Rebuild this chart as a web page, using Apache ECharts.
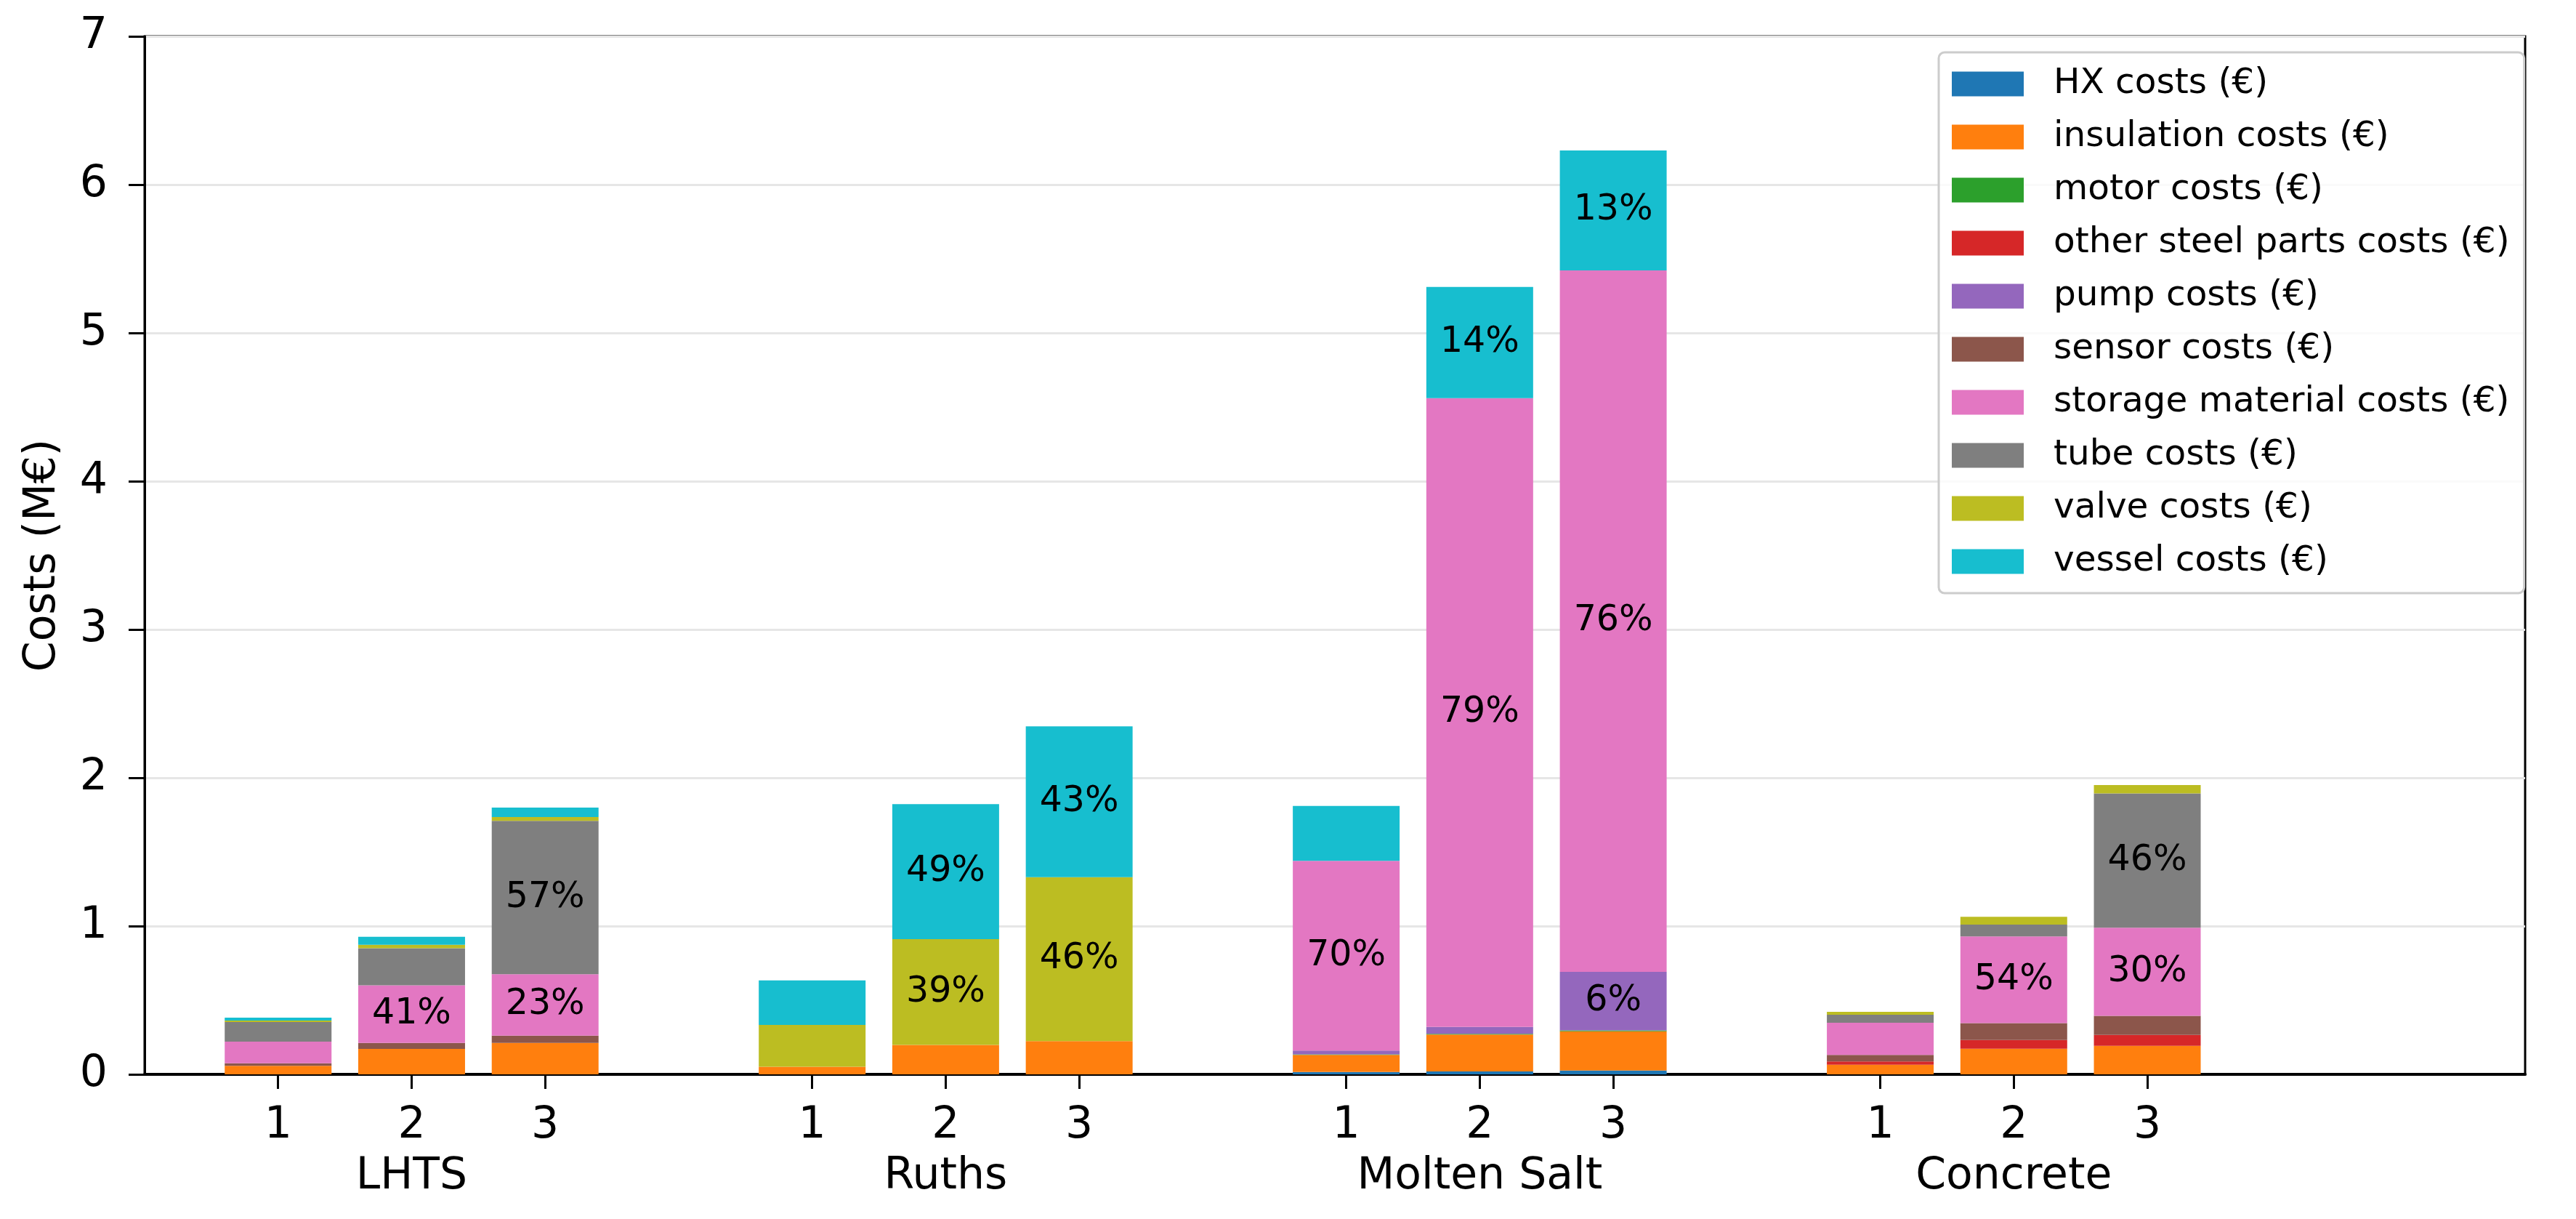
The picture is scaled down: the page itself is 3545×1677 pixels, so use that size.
<!DOCTYPE html>
<html>
<head>
<meta charset="utf-8">
<script src="https://cdn.jsdelivr.net/npm/echarts@6/dist/echarts.min.js"></script>
<style>
html,body{margin:0;padding:0;background:#fff;}
#chart{width:3545px;height:1677px;}
</style>
</head>
<body>
<div id="chart"></div>
<script>
// ---------- data ----------
const groups = ['LHTS', 'Ruths', 'Molten Salt', 'Concrete'];
const configs = ['1', '2', '3'];
const yTicks = [0, 1, 2, 3, 4, 5, 6, 7];
// values in M€, order: LHTS 1-3, Ruths 1-3, Molten Salt 1-3, Concrete 1-3
const hxCosts         = [0, 0, 0,   0, 0, 0,   0.016, 0.020, 0.026,   0, 0, 0];
const insulationCosts = [0.057, 0.172, 0.212,   0.051, 0.198, 0.224,   0.115, 0.248, 0.265,   0.065, 0.173, 0.193];
const motorCosts      = [0, 0, 0,   0, 0, 0,   0.004, 0.005, 0.006,   0, 0, 0];
const otherSteelCosts = [0, 0, 0,   0, 0, 0,   0, 0, 0,   0.022, 0.059, 0.073];
const pumpCosts       = [0, 0, 0,   0, 0, 0,   0.025, 0.047, 0.394,   0, 0, 0];
const sensorCosts     = [0.018, 0.040, 0.049,   0, 0, 0,   0, 0, 0,   0.044, 0.114, 0.129];
const storageCosts    = [0.145, 0.388, 0.414,   0, 0, 0,   1.28, 4.24, 4.73,   0.217, 0.584, 0.594];
const tubeCosts       = [0.133, 0.251, 1.034,   0, 0, 0,   0, 0, 0,   0.054, 0.080, 0.905];
const valveCosts      = [0.010, 0.023, 0.026,   0.282, 0.714, 1.106,   0, 0, 0,   0.020, 0.052, 0.057];
const vesselCosts     = [0.019, 0.054, 0.064,   0.300, 0.910, 1.017,   0.37, 0.75, 0.81,   0, 0, 0];
// share labels printed on segments
const storageLabels = ['', '41%', '23%', '', '', '', '70%', '79%', '76%', '', '54%', '30%'];
const tubeLabels    = ['', '', '57%', '', '', '', '', '', '', '', '', '46%'];
const valveLabels   = ['', '', '', '', '39%', '46%', '', '', '', '', '', ''];
const vesselLabels  = ['', '', '', '', '49%', '43%', '', '14%', '13%', '', '', ''];
const pumpLabels    = ['', '', '', '', '', '', '', '', '6%', '', '', ''];

// ---------- layout ----------
const FONT = 'DejaVu Sans';
const TICK_FS = 60;
const LEGEND_FS = 48.5;
const LABEL_FS = 49;
const NAME_FS = 60;
const GROUP_STEP = 4;
const BAR_W = 0.8; // in axis units
const positions = [];
groups.forEach((g, gi) => configs.forEach((c, ci) => positions.push(gi * GROUP_STEP + ci)));
const groupCenters = groups.map((g, gi) => gi * GROUP_STEP + 1);
const X_MIN = -1, X_MAX = 16.83;

const seriesDefs = [
  {name: 'HX costs (€)', color: '#1f77b4', vals: hxCosts},
  {name: 'insulation costs (€)', color: '#ff7f0e', vals: insulationCosts},
  {name: 'motor costs (€)', color: '#2ca02c', vals: motorCosts},
  {name: 'other steel parts costs (€)', color: '#d62728', vals: otherSteelCosts},
  {name: 'pump costs (€)', color: '#9467bd', vals: pumpCosts, labels: pumpLabels},
  {name: 'sensor costs (€)', color: '#8c564b', vals: sensorCosts},
  {name: 'storage material costs (€)', color: '#e377c2', vals: storageCosts, labels: storageLabels},
  {name: 'tube costs (€)', color: '#7f7f7f', vals: tubeCosts, labels: tubeLabels},
  {name: 'valve costs (€)', color: '#bcbd22', vals: valveCosts, labels: valveLabels},
  {name: 'vessel costs (€)', color: '#17becf', vals: vesselCosts, labels: vesselLabels}
];

// stacked bottoms built from the value arrays
const running = positions.map(() => 0);
const series = seriesDefs.map(d => {
  const data = d.vals.map((v, i) => {
    const bottom = running[i];
    running[i] = bottom + v;
    return [positions[i], bottom, bottom + v];
  });
  return {
    name: d.name,
    type: 'custom',
    coordinateSystem: 'cartesian2d',
    xAxisIndex: 0,
    yAxisIndex: 0,
    itemStyle: {color: d.color},
    encode: {x: 0, y: [1, 2]},
    animation: false,
    silent: true,
    renderItem: function (params, api) {
      const x = api.value(0), y0 = api.value(1), y1 = api.value(2);
      if (!(y1 > y0)) return null;
      const pTop = api.coord([x, y1]);
      const pBot = api.coord([x, y0]);
      const w = api.size([BAR_W, 0])[0];
      const txt = d.labels ? d.labels[params.dataIndex] : '';
      const el = {
        type: 'rect',
        shape: {x: pTop[0] - w / 2, y: pTop[1], width: w, height: pBot[1] - pTop[1]},
        style: {fill: d.color}
      };
      if (txt) {
        el.textContent = {
          type: 'text',
          style: {text: txt, fill: '#000', fontFamily: FONT, fontSize: LABEL_FS}
        };
        el.textConfig = {position: 'inside'};
      }
      return el;
    },
    data: data
  };
});

const chart = echarts.init(document.getElementById('chart'), null, {renderer: 'canvas'});
chart.setOption({
  backgroundColor: '#ffffff',
  animation: false,
  color: seriesDefs.map(d => d.color),
  grid: {left: 199, right: 70, top: 50, bottom: 199, show: true, borderColor: '#000', borderWidth: 3, backgroundColor: 'transparent'},
  legend: {
    orient: 'vertical',
    left: 2668,
    top: 72,
    padding: [19, 20, 19, 18],
    itemWidth: 99,
    itemHeight: 34,
    itemGap: 24,
    icon: 'rect',
    selectedMode: false,
    backgroundColor: 'rgba(255,255,255,0.8)',
    borderColor: '#cccccc',
    borderWidth: 3,
    borderRadius: 8,
    textStyle: {fontFamily: FONT, fontSize: LEGEND_FS, color: '#000', padding: [0, 0, 0, 36]},
    data: seriesDefs.map(d => ({name: d.name, itemStyle: {color: d.color}}))
  },
  xAxis: [
    {
      type: 'value', min: X_MIN, max: X_MAX, position: 'bottom',
      axisLine: {show: true, onZero: false, lineStyle: {color: '#000', width: 4}},
      axisTick: {show: true, customValues: positions, length: 20, lineStyle: {color: '#000', width: 3}},
      axisLabel: {
        show: true, customValues: positions, margin: 41,
        fontFamily: FONT, fontSize: TICK_FS, color: '#000',
        formatter: v => configs[Math.round(v) % GROUP_STEP] || ''
      },
      splitLine: {show: false}
    },
    {
      type: 'value', min: X_MIN, max: X_MAX, position: 'bottom', gridIndex: 0,
      axisLine: {show: false, onZero: false},
      axisTick: {show: false},
      axisLabel: {
        show: true, customValues: groupCenters, margin: 111,
        fontFamily: FONT, fontSize: TICK_FS, color: '#000',
        formatter: v => groups[Math.round((v - 1) / GROUP_STEP)] || ''
      },
      splitLine: {show: false}
    }
  ],
  yAxis: {
    type: 'value', min: yTicks[0], max: yTicks[yTicks.length - 1], interval: 1,
    name: 'Costs (M€)', nameLocation: 'middle', nameGap: 110,
    nameTextStyle: {fontFamily: FONT, fontSize: NAME_FS, color: '#000'},
    axisLine: {show: true, onZero: false, lineStyle: {color: '#000', width: 3}},
    axisTick: {show: true, length: 22, lineStyle: {color: '#000', width: 3}},
    axisLabel: {margin: 51, fontFamily: FONT, fontSize: TICK_FS, color: '#000'},
    splitLine: {show: true, lineStyle: {color: '#e6e6e6', width: 3}}
  },
  series: series
});
</script>
</body>
</html>
